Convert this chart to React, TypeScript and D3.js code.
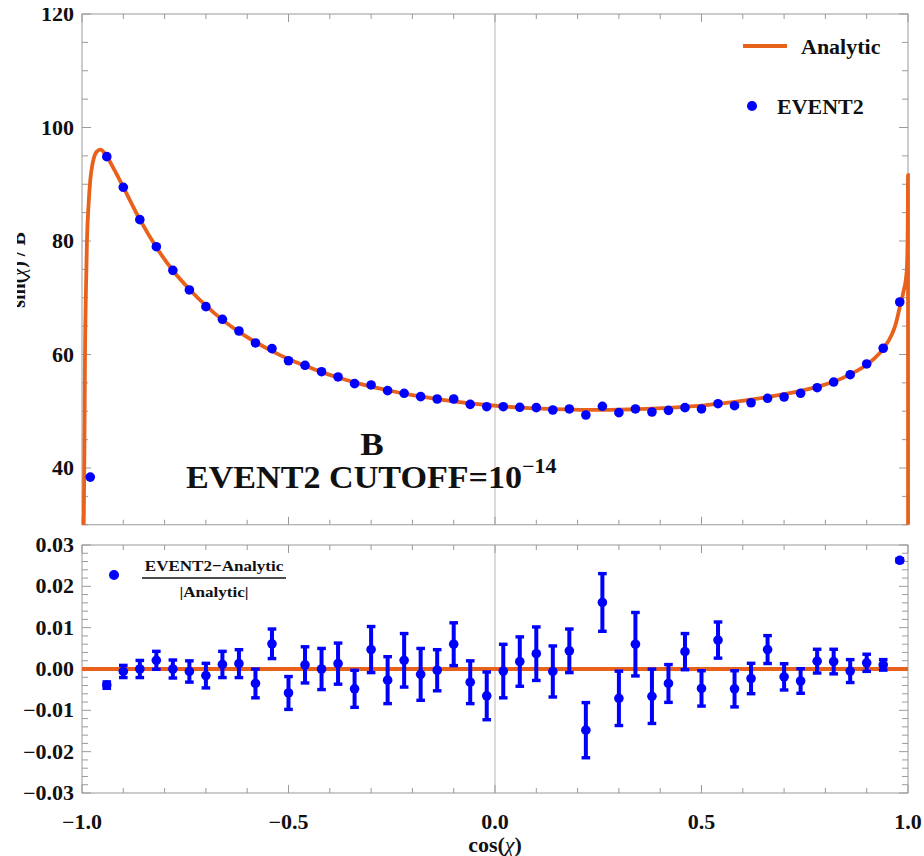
import React from "react";
import * as d3 from "d3";

// ---------- data ----------
const binX = [
  -0.94, -0.9, -0.86, -0.82, -0.78, -0.74, -0.7, -0.66, -0.62, -0.58, -0.54, -0.5,
  -0.46, -0.42, -0.38, -0.34, -0.3, -0.26, -0.22, -0.18, -0.14, -0.1, -0.06, -0.02,
  0.02, 0.06, 0.1, 0.14, 0.18, 0.22, 0.26, 0.3, 0.34, 0.38, 0.42, 0.46, 0.5, 0.54,
  0.58, 0.62, 0.66, 0.7, 0.74, 0.78, 0.82, 0.86, 0.9, 0.94, 0.98,
];

const event2X = [-0.98, ...binX];
const event2Vals = [
  38.4, 94.86, 89.46, 83.76, 79.0, 74.83, 71.37, 68.43, 66.2, 64.14, 62.03, 61.03,
  58.9, 58.1, 56.97, 56.04, 54.86, 54.63, 53.63, 53.16, 52.57, 52.16, 52.16, 51.22,
  50.8, 50.8, 50.7, 50.63, 50.22, 50.4, 49.34, 50.87, 49.75, 50.4, 49.87, 50.16,
  50.63, 50.4, 51.33, 50.98, 51.5, 52.28, 52.51, 53.16, 54.15, 55.15, 56.44, 58.33,
  61.1, 69.25,
];

const analyticX = [
  -0.9968, -0.9958, -0.9944, -0.9927, -0.9905, -0.988, -0.984, -0.98, -0.975, -0.971,
  -0.966, -0.96, -0.955, -0.95, -0.945, -0.94, -0.92, -0.9, -0.86, -0.82, -0.78,
  -0.74, -0.7, -0.66, -0.62, -0.58, -0.54, -0.5, -0.46, -0.42, -0.38, -0.34, -0.3,
  -0.26, -0.22, -0.18, -0.14, -0.1, -0.06, -0.02, 0.02, 0.06, 0.1, 0.14, 0.18, 0.22,
  0.26, 0.3, 0.34, 0.38, 0.42, 0.46, 0.5, 0.54, 0.58, 0.62, 0.66, 0.7, 0.74, 0.78,
  0.82, 0.86, 0.9, 0.92, 0.94, 0.96, 0.97, 0.98, 0.99, 0.995, 0.9975, 0.999, 0.9997,
  1.0, 1.0002,
];
const analyticY = [
  25, 30, 41, 60, 71, 80, 86.5, 90.7, 93.4, 94.7, 95.6, 96.0, 96.1, 95.9, 95.4, 94.9,
  92.3, 89.5, 83.8, 78.9, 74.8, 71.5, 68.6, 66.1, 64.0, 62.2, 60.6, 59.2, 58.0, 56.9,
  55.95, 55.1, 54.35, 53.7, 53.1, 52.6, 52.15, 51.75, 51.4, 51.1, 50.85, 50.65, 50.5,
  50.38, 50.3, 50.25, 50.25, 50.28, 50.35, 50.45, 50.6, 50.8, 51.0, 51.3, 51.65,
  52.05, 52.5, 53.0, 53.6, 54.3, 55.2, 56.5, 58.2, 59.4, 61.0, 63.4, 65.3, 68.3,
  71.4, 73.3, 75.5, 80, 86, 91.6, 20,
];

const residVals = [
  -0.0039, -0.0006, 0.0, 0.0021, 0.0, -0.0006, -0.0016, 0.0011, 0.0013, -0.0035,
  0.0061, -0.0058, 0.001, 0.0, 0.0013, -0.0048, 0.0047, -0.0027, 0.0021, -0.0013,
  -0.0003, 0.006, -0.0032, -0.0065, -0.0005, 0.0018, 0.0037, -0.0006, 0.0044,
  -0.0148, 0.0161, -0.0071, 0.006, -0.0066, -0.0035, 0.0042, -0.0047, 0.007,
  -0.0048, -0.0023, 0.0047, -0.0019, -0.0029, 0.0019, 0.0018, -0.0005, 0.0015,
  0.001, 0.0263,
];
const residErr = [
  0.0008, 0.0015, 0.0021, 0.0022, 0.0022, 0.0026, 0.003, 0.0032, 0.0034, 0.0035,
  0.0036, 0.004, 0.0044, 0.005, 0.005, 0.0045, 0.0056, 0.0057, 0.0065, 0.0063,
  0.005, 0.0052, 0.0052, 0.0058, 0.0065, 0.006, 0.0065, 0.0062, 0.0053, 0.0067,
  0.007, 0.0066, 0.0077, 0.0066, 0.0046, 0.0044, 0.0043, 0.0044, 0.0044, 0.0037,
  0.0034, 0.0032, 0.003, 0.0029, 0.003, 0.0028, 0.0021, 0.0013, 0.0004,
];

const topYMajor = [40, 60, 80, 100, 120];
const topYMinor = [30, 35, 45, 50, 55, 65, 70, 75, 85, 90, 95, 105, 110, 115];
const botYMajor = [-0.03, -0.02, -0.01, 0.0, 0.01, 0.02, 0.03];
const botYLabels = ["\u22120.03", "\u22120.02", "\u22120.01", "0.00", "0.01", "0.02", "0.03"];
const botYMinor = [
  -0.028, -0.026, -0.024, -0.022, -0.018, -0.016, -0.014, -0.012, -0.008, -0.006, -0.004,
  -0.002, 0.002, 0.004, 0.006, 0.008, 0.012, 0.014, 0.016, 0.018, 0.022, 0.024, 0.026, 0.028,
];
const xMajor = [-1, -0.5, 0, 0.5, 1];
const xLabels = ["\u22121.0", "\u22120.5", "0.0", "0.5", "1.0"];
const xMinor = [-0.9, -0.8, -0.7, -0.6, -0.4, -0.3, -0.2, -0.1, 0.1, 0.2, 0.3, 0.4, 0.6, 0.7, 0.8, 0.9];

// ---------- layout ----------
const W = 924;
const H = 856;
const L = 82;
const R = 908;
const ORANGE = "#E8621C";
const BLUE = "#0000FF";
const FRAME = "#9a9a9a";
const FONT = "'Liberation Serif', 'Times New Roman', serif";
const SX = 1.1; // horizontal stretch of the reference's text

function T(props: any) {
  const { x, y, children, ...rest } = props;
  return (
    <text transform={`translate(${x},${y}) scale(${SX},1)`} fontWeight="bold" fill="#111" {...rest}>
      {children}
    </text>
  );
}

export default function App() {
  const x = d3.scaleLinear().domain([-1, 1]).range([L, R]);
  const yTop = d3.scaleLinear().domain([30, 120]).range([524.75, 14]);
  const yBot = d3.scaleLinear().domain([-0.03, 0.03]).range([793, 545]);

  const line = d3
    .line<number>()
    .x((d, i) => x(analyticX[i]))
    .y((d) => yTop(d))
    .curve(d3.curveMonotoneX);

  const topT = 14, topB = 524.75, botT = 545, botB = 793;

  const frameTicks = (yT: number, yB: number, ys: number[], yMinorVals: number[], ysc: any) => (
    <g stroke={FRAME} strokeWidth={1} fill="none">
      <rect x={L} y={yT} width={R - L} height={yB - yT} />
      {xMajor.map((v) => (
        <g key={"xM" + v}>
          <line x1={x(v)} x2={x(v)} y1={yB} y2={yB - 8} />
          <line x1={x(v)} x2={x(v)} y1={yT} y2={yT + 8} />
        </g>
      ))}
      {xMinor.map((v) => (
        <g key={"xm" + v}>
          <line x1={x(v)} x2={x(v)} y1={yB} y2={yB - 5} />
          <line x1={x(v)} x2={x(v)} y1={yT} y2={yT + 5} />
        </g>
      ))}
      {ys.map((v) => (
        <g key={"yM" + v}>
          <line x1={L} x2={L + 9} y1={ysc(v)} y2={ysc(v)} />
          <line x1={R} x2={R - 9} y1={ysc(v)} y2={ysc(v)} />
        </g>
      ))}
      {yMinorVals.map((v) => (
        <g key={"ym" + v}>
          <line x1={L} x2={L + 6} y1={ysc(v)} y2={ysc(v)} />
          <line x1={R} x2={R - 6} y1={ysc(v)} y2={ysc(v)} />
        </g>
      ))}
    </g>
  );

  return (
    <svg
      width={W}
      height={H}
      style={{ position: "absolute", left: 0, top: 0, background: "#fff" }}
      fontFamily={FONT}
    >
      <defs>
        <clipPath id="clipTop">
          <rect x={L} y={topT} width={R - L + 3} height={topB - topT} />
        </clipPath>
        <clipPath id="clipBot">
          <rect x={L} y={botT} width={R - L} height={botB - botT} />
        </clipPath>
        <clipPath id="clipYLab">
          <rect x={17} y={0} width={30} height={H} />
        </clipPath>
        <clipPath id="clipAll">
          <rect x={0} y={8} width={W} height={H - 8} />
        </clipPath>
      </defs>
      <rect x={0} y={0} width={W} height={H} fill="#fff" />
      <g clipPath="url(#clipAll)">
        {/* zero vertical lines */}
        <line x1={x(0)} x2={x(0)} y1={topT} y2={topB} stroke="#cfcfcf" strokeWidth={1.5} />
        <line x1={x(0)} x2={x(0)} y1={botT} y2={botB} stroke="#cfcfcf" strokeWidth={1.5} />

        {frameTicks(topT, topB, topYMajor, topYMinor, yTop)}
        {frameTicks(botT, botB, botYMajor, botYMinor, yBot)}

        {/* top panel */}
        <g clipPath="url(#clipTop)">
          <path d={line(analyticY) || ""} fill="none" stroke={ORANGE} strokeWidth={3.8} />
          {event2X.map((v, i) => (
            <circle key={i} cx={x(v)} cy={yTop(event2Vals[i])} r={4.8} fill={BLUE} />
          ))}
        </g>

        {/* bottom panel */}
        <g clipPath="url(#clipBot)">
          <line x1={L} x2={R} y1={yBot(0)} y2={yBot(0)} stroke={ORANGE} strokeWidth={4} />
          {binX.map((v, i) => {
            const cx = x(v);
            const y0 = yBot(residVals[i] + residErr[i]);
            const y1 = yBot(residVals[i] - residErr[i]);
            return (
              <g key={i} fill={BLUE} stroke="none">
                <rect x={cx - 2} y={y0} width={4} height={y1 - y0} />
                <rect x={cx - 4.3} y={y0 - 1.6} width={8.6} height={3.4} />
                <rect x={cx - 4.3} y={y1 - 1.8} width={8.6} height={3.4} />
                <circle cx={cx} cy={yBot(residVals[i])} r={4.8} />
              </g>
            );
          })}
        </g>

        {/* tick labels */}
        <g fontSize={20} textAnchor="end">
          {topYMajor.map((v) => (
            <T key={v} x={74} y={yTop(v)} dy="0.35em">
              {v}
            </T>
          ))}
          {botYMajor.map((v, i) => (
            <T key={v} x={74} y={yBot(v)} dy="0.35em">
              {botYLabels[i]}
            </T>
          ))}
        </g>
        <g fontSize={20} textAnchor="middle">
          {xMajor.map((v, i) => (
            <T key={v} x={x(v)} y={829}>
              {xLabels[i]}
            </T>
          ))}
          <T x={x(0)} y={852}>
            cos(<tspan fontStyle="italic" fontWeight="normal">χ</tspan>)
          </T>
        </g>

        {/* y label (partially clipped) */}
        <g clipPath="url(#clipYLab)">
          <text
            transform="translate(25,270) rotate(-90)"
            textAnchor="middle"
            fontSize={20}
            fontWeight="bold"
            fill="#111"
          >
            sin(<tspan fontStyle="italic" fontWeight="normal">χ</tspan>) / B
          </text>
        </g>

        {/* legend top */}
        <line x1={743} x2={787} y1={46} y2={46} stroke={ORANGE} strokeWidth={4} />
        <T x={801} y={54} fontSize={20}>
          Analytic
        </T>
        <circle cx={752} cy={106} r={5} fill={BLUE} />
        <T x={777} y={114} fontSize={20}>
          EVENT2
        </T>

        {/* annotations */}
        <T x={372} y={455} fontSize={32} textAnchor="middle">
          B
        </T>
        <T x={186} y={488} fontSize={31}>
          EVENT2 CUTOFF=10
          <tspan fontSize={20} dy={-15}>
            {"\u221214"}
          </tspan>
        </T>

        {/* legend bottom */}
        <circle cx={114} cy={575} r={5} fill={BLUE} />
        <g fontSize={15.5} textAnchor="middle">
          <T x={214} y={571}>EVENT2{"\u2212"}Analytic</T>
          <line x1={142} x2={286} y1={578} y2={578} stroke="#111" strokeWidth={1.6} />
          <T x={214} y={597}>|Analytic|</T>
        </g>
      </g>
    </svg>
  );
}
